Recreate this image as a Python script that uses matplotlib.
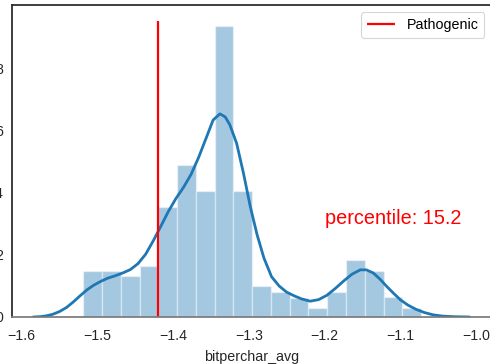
import numpy as np
import matplotlib
matplotlib.use("Agg")
import matplotlib.pyplot as plt

# Histogram of bitperchar_avg (density-normalised bar heights)
bin_start = -1.518
bin_end = -1.073
bar_heights = [1.49, 1.49, 1.33, 1.66, 3.56, 4.91, 4.06, 9.37, 4.06,
               0.99, 0.81, 0.62, 0.29, 0.81, 1.83, 1.49, 0.64, 0.29]

# Kernel density estimate of the same variable
kde_x = [-1.584, -1.575, -1.566, -1.558, -1.549, -1.540, -1.531, -1.522, -1.513,
         -1.504, -1.495, -1.486, -1.476, -1.466, -1.456, -1.446, -1.436, -1.426,
         -1.416, -1.406, -1.396, -1.386, -1.376, -1.366, -1.356, -1.347, -1.338,
         -1.331, -1.325, -1.316, -1.307, -1.298, -1.289, -1.280, -1.270, -1.260,
         -1.250, -1.240, -1.230, -1.219, -1.208, -1.197, -1.186, -1.175, -1.164,
         -1.153, -1.145, -1.136, -1.127, -1.118, -1.109, -1.100, -1.090, -1.079,
         -1.068, -1.057, -1.045, -1.030, -1.009]
kde_y = [0.00, 0.01, 0.04, 0.09, 0.18, 0.31, 0.49, 0.69, 0.88,
         1.03, 1.15, 1.25, 1.33, 1.42, 1.53, 1.72, 2.02, 2.45,
         2.92, 3.40, 3.82, 4.18, 4.60, 5.15, 5.78, 6.35, 6.55,
         6.45, 6.20, 5.60, 4.64, 3.56, 2.65, 1.90, 1.30, 1.00,
         0.80, 0.68, 0.58, 0.51, 0.56, 0.70, 0.92, 1.16, 1.38,
         1.52, 1.52, 1.42, 1.22, 0.98, 0.76, 0.55, 0.38, 0.24,
         0.14, 0.07, 0.03, 0.01, 0.00]

# Pathogenic variant score and its percentile
pathogenic_x = -1.42
pathogenic_top = 9.53
percentile = 15.2

plt.rcParams['font.family'] = ['Liberation Sans', 'DejaVu Sans']

W, H = 490, 364
fig = plt.figure(figsize=(W / 100, H / 100), dpi=100)
ax_left, ax_right, ax_top, ax_bottom = 12, 491.6, 5.3, 317
ax = fig.add_axes([ax_left / W, 1 - ax_bottom / H,
                   (ax_right - ax_left) / W, (ax_bottom - ax_top) / H])

n_bins = len(bar_heights)
edges = np.linspace(bin_start, bin_end, n_bins + 1)
ax.bar(edges[:-1], bar_heights, width=np.diff(edges), align='edge',
       color='#1f77b4', alpha=0.4, edgecolor='white', linewidth=1.0)
ax.plot(kde_x, kde_y, color='#1f77b4', lw=2.0, solid_capstyle='round',
        solid_joinstyle='round')

ax.vlines(pathogenic_x, 0, pathogenic_top, colors='red', lw=1.6, label='Pathogenic')
ax.text(-1.2, 3.0, f'percentile: {percentile}', color='red', fontsize=14.3,
        ha='left', va='baseline')

ax.set_xlim(-1.612, -0.98)
ax.set_ylim(0, 10.05)
ax.set_xticks([-1.6, -1.5, -1.4, -1.3, -1.2, -1.1, -1.0])
ax.set_yticks([0, 2, 4, 6, 8])
ax.set_yticklabels(['0', '2', '4', '6', '8'])
ax.tick_params(axis='x', length=0, pad=8.5, labelsize=10.2, labelcolor='#262626')
ax.tick_params(axis='y', length=0, pad=6.5, labelsize=10.2, labelcolor='#262626')
ax.set_xlabel('bitperchar_avg', fontsize=10.3, color='#262626', labelpad=5.0)

for side in ['left', 'top', 'right']:
    ax.spines[side].set_color('#262626')
    ax.spines[side].set_linewidth(1.25)
ax.spines['bottom'].set_color('#7a7a7a')
ax.spines['bottom'].set_linewidth(1.25)

leg = ax.legend(loc='upper right', fontsize=10.3, frameon=True, fancybox=True,
                borderaxespad=0.5, handlelength=2.0)
leg.get_frame().set_edgecolor('#cccccc')
leg.get_frame().set_linewidth(0.8)

fig.savefig('out.png', dpi=100)
